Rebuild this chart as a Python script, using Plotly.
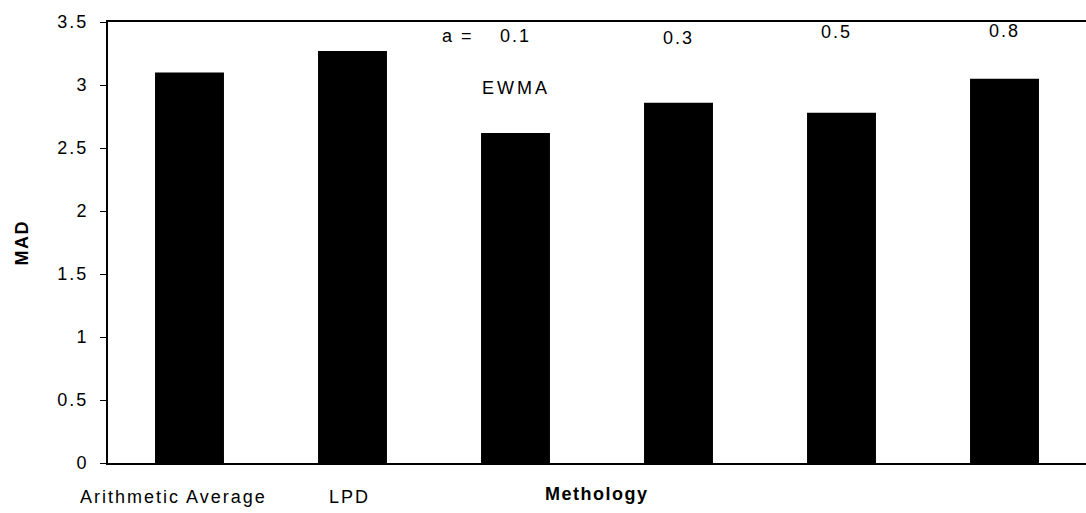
import plotly.graph_objects as go

categories = ["Arithmetic Average", "LPD", "EWMA a=0.1", "EWMA a=0.3", "EWMA a=0.5", "EWMA a=0.8"]
mad_values = [3.10, 3.27, 2.62, 2.86, 2.78, 3.05]
alpha_labels = ["0.1", "0.3", "0.5", "0.8"]
alpha_y = [3.39, 3.37, 3.42, 3.43]
alpha_x = [2, 3, 3.97, 5]
y_tickvals = [0, 0.5, 1, 1.5, 2, 2.5, 3, 3.5]
y_ticktext = ["0", "0.5", "1", "1.5", "2", "2.5", "3", "3.5"]

FONT = "Liberation Sans, Arial, sans-serif"


def sp(t, ls=2):
    return f'<span style="letter-spacing:{ls}px">{t}</span>'


fig = go.Figure(
    go.Bar(x=categories, y=mad_values, marker=dict(color="black", line=dict(width=0)))
)

annotations = []
for lab, xv, yv in zip(alpha_labels, alpha_x, alpha_y):
    annotations.append(dict(x=xv, y=yv, xref="x", yref="y", text=sp(lab), showarrow=False,
                            xanchor="center", yanchor="middle",
                            font=dict(family=FONT, size=18, color="black")))
annotations += [
    dict(x=1.65, y=3.39, xref="x", yref="y", text=sp("a ="), showarrow=False,
         xanchor="center", yanchor="middle", font=dict(family=FONT, size=18, color="black")),
    dict(x=2, y=2.98, xref="x", yref="y", text=sp("EWMA", 3), showarrow=False,
         xanchor="center", yanchor="middle", font=dict(family=FONT, size=18, color="black")),
    dict(x=-0.1, y=-0.077, xref="x", yref="paper", text=sp("Arithmetic Average"), showarrow=False,
         xanchor="center", yanchor="middle", font=dict(family=FONT, size=18, color="black")),
    dict(x=0.98, y=-0.077, xref="x", yref="paper", text=sp("LPD"), showarrow=False,
         xanchor="center", yanchor="middle", font=dict(family=FONT, size=18, color="black")),
    dict(x=0.5, y=-0.07, xref="paper", yref="paper", text=sp("<b>Methology</b>", 1.5), showarrow=False,
         xanchor="center", yanchor="middle", font=dict(family=FONT, size=18, color="black")),
    dict(x=(21 - 108) / 978, y=0.5, xref="paper", yref="paper", text=sp("<b>MAD</b>", 1.5),
         showarrow=False, textangle=-90, xanchor="center", yanchor="middle",
         font=dict(family=FONT, size=18, color="black")),
]

fig.update_layout(
    width=1086, height=513,
    margin=dict(l=108, r=0, t=22, b=50),
    paper_bgcolor="white", plot_bgcolor="white",
    bargap=0.577,
    showlegend=False,
    annotations=annotations,
    font=dict(family=FONT, size=18, color="black"),
)
fig.update_xaxes(
    range=[-0.5, 5.5], autorange=False,
    showticklabels=False, ticks="", showgrid=False, zeroline=False,
    showline=True, linecolor="black", linewidth=2, mirror=True,
)
fig.update_yaxes(
    range=[0, 3.5], tickvals=y_tickvals, ticktext=[sp(t) for t in y_ticktext],
    ticks="outside", ticklen=6, tickcolor="black", tickwidth=1,
    ticklabelstandoff=8,
    showgrid=False, zeroline=False, showline=True, linecolor="black", linewidth=2,
    tickfont=dict(family=FONT, size=18, color="black"),
)

fig.write_html("out.html")
